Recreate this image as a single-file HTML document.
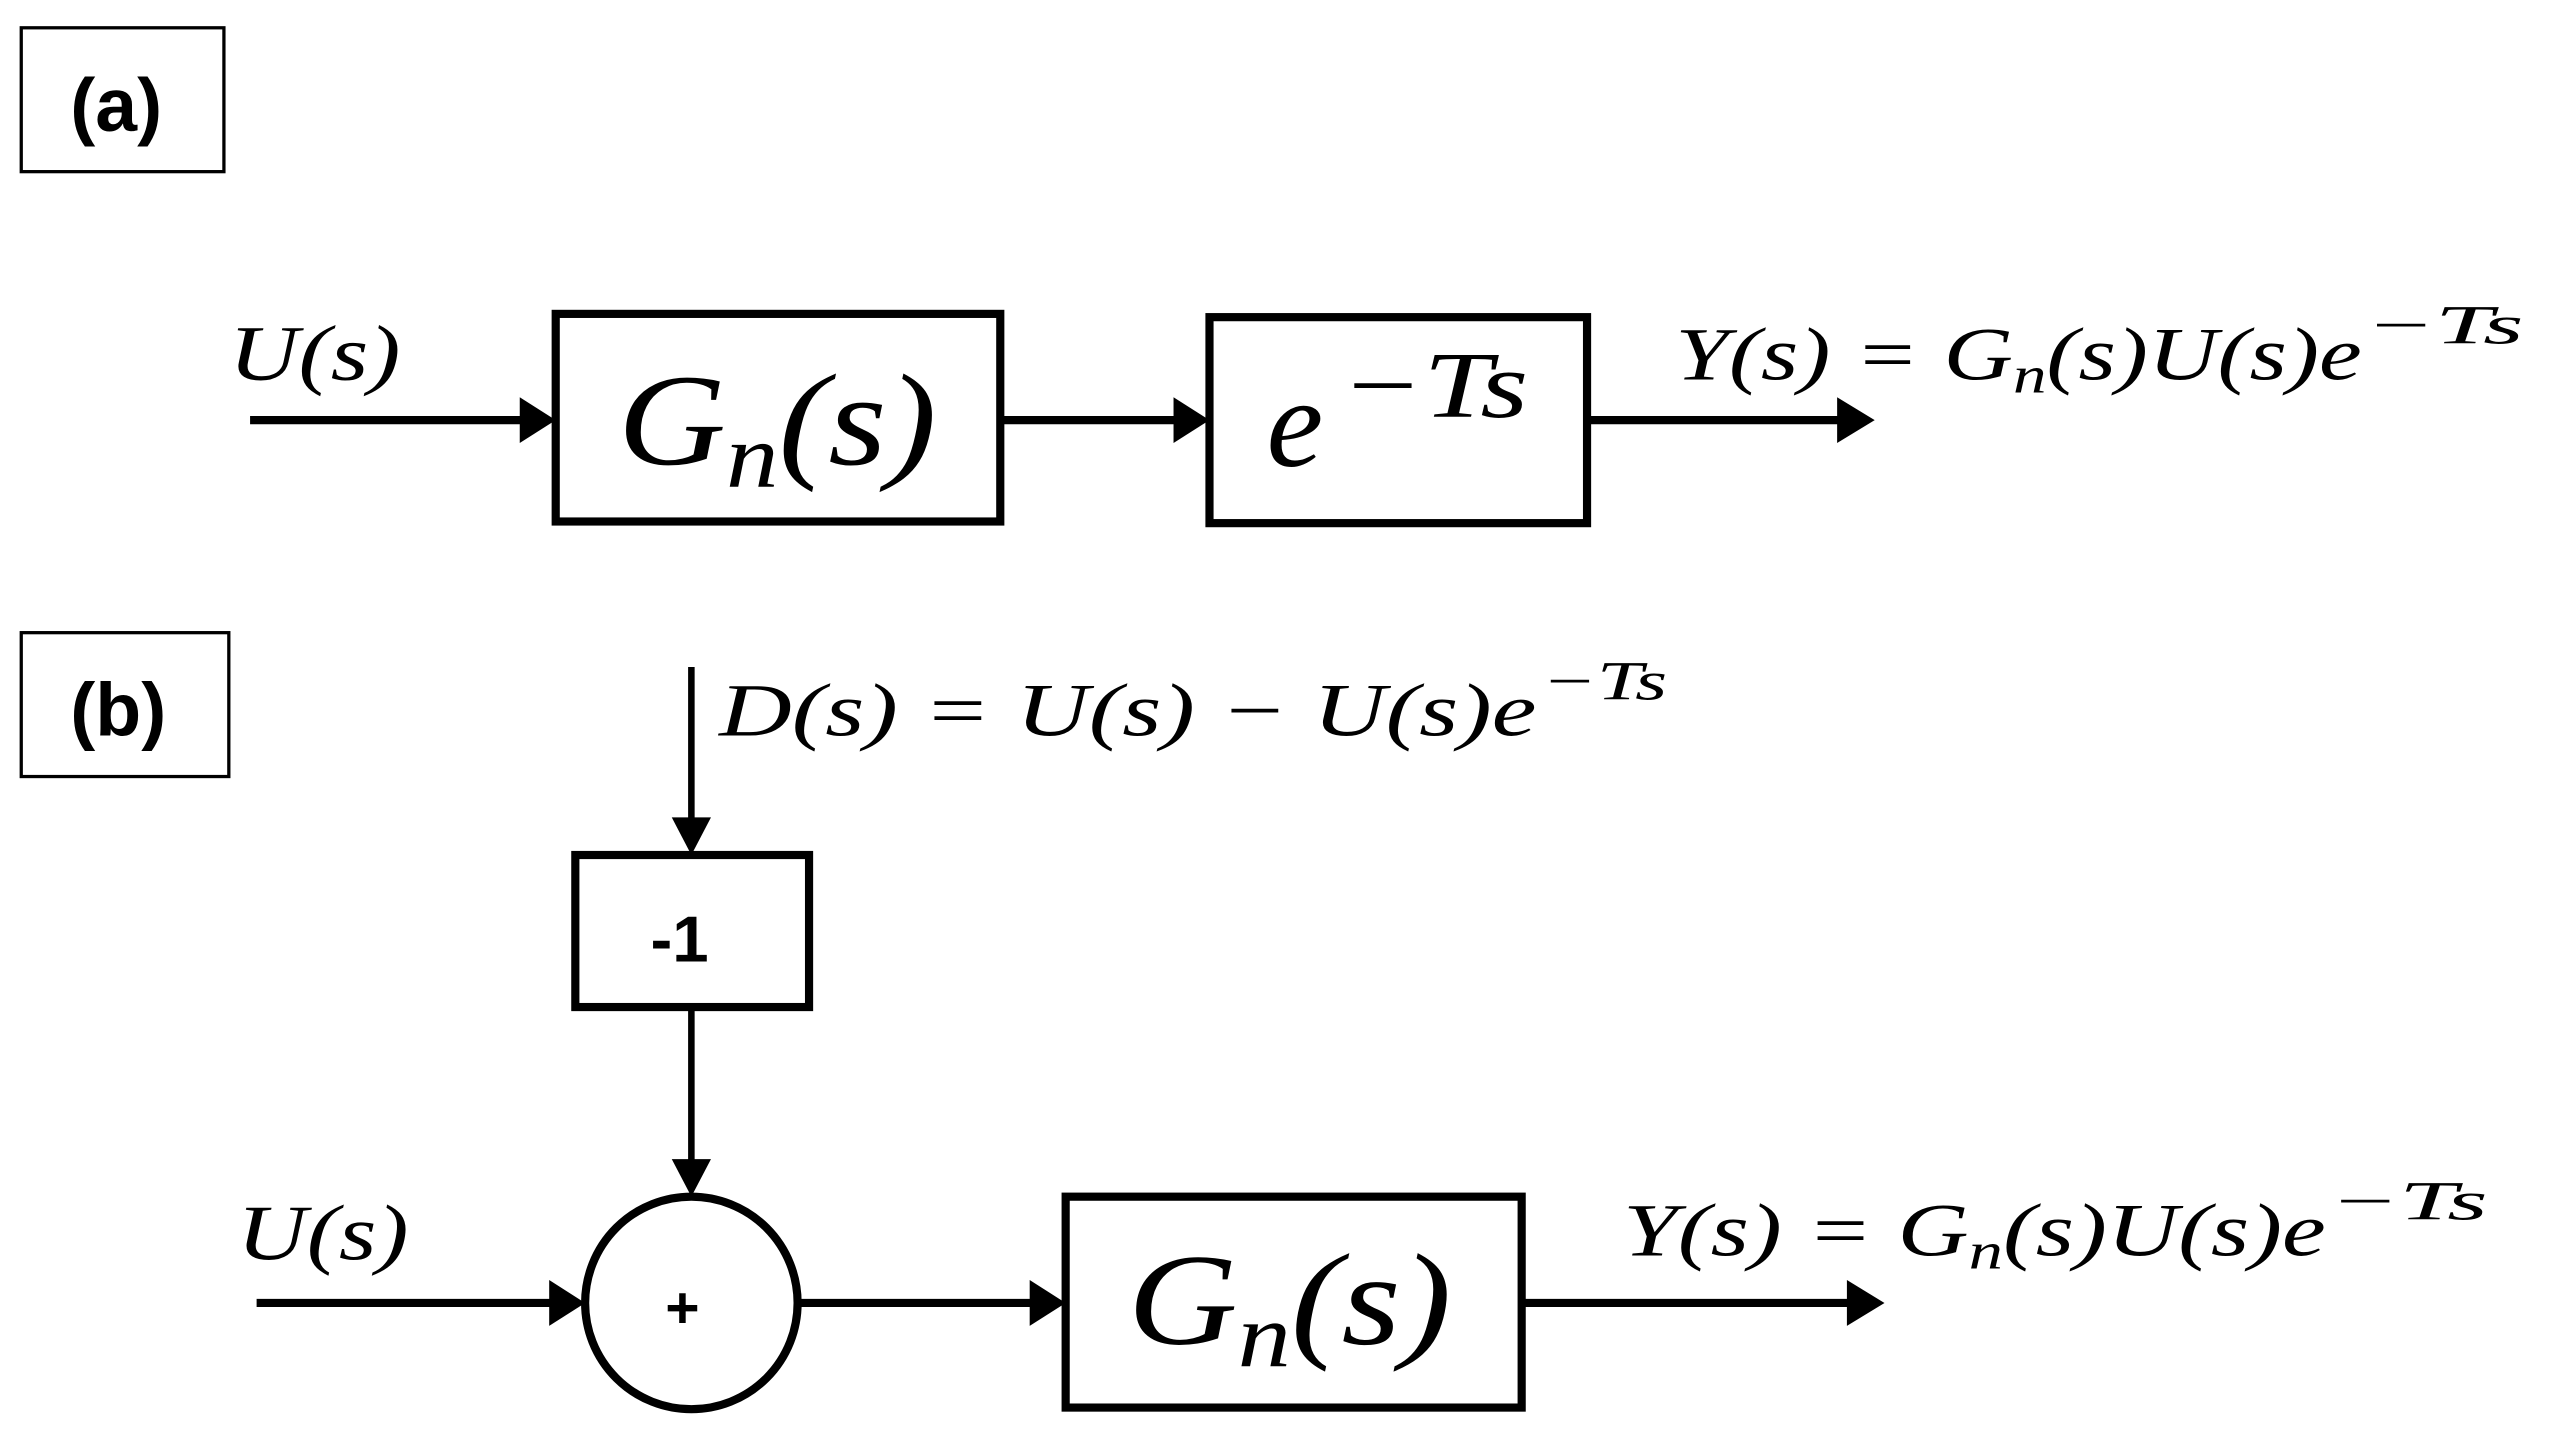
<!DOCTYPE html>
<html><head><meta charset="utf-8"><style>
html,body{margin:0;padding:0;background:#fff;}
svg{display:block;}
text{font-family:"Liberation Serif",serif;font-style:italic;fill:#000;}
.b{font-family:"Liberation Sans",sans-serif;font-style:normal;font-weight:bold;}
</style></head><body>
<svg width="2553" height="1437" viewBox="0 0 1562 879" preserveAspectRatio="none" xmlns="http://www.w3.org/2000/svg">
<g fill="none" stroke="#000">
<rect x="13" y="17" width="124" height="88" stroke-width="2"/>
<rect x="13" y="387" width="127" height="88" stroke-width="2"/>
<rect x="340" y="192" width="272" height="127" stroke-width="5"/>
<rect x="740" y="194" width="231" height="126" stroke-width="5"/>
<rect x="352" y="523" width="143" height="93" stroke-width="5"/>
<rect x="652" y="732" width="279" height="129" stroke-width="5"/>
<circle cx="423" cy="797" r="65" stroke-width="5"/>
<line x1="153" y1="257" x2="322" y2="257" stroke-width="5"/>
<line x1="612" y1="257" x2="722" y2="257" stroke-width="5"/>
<line x1="971" y1="257" x2="1128" y2="257" stroke-width="5"/>
<line x1="157" y1="797" x2="340" y2="797" stroke-width="5"/>
<line x1="488" y1="797" x2="634" y2="797" stroke-width="5"/>
<line x1="931" y1="797" x2="1134" y2="797" stroke-width="5"/>
<line x1="423" y1="408" x2="423" y2="504" stroke-width="4"/>
<line x1="423" y1="616" x2="423" y2="714" stroke-width="4"/>
</g>
<g fill="#000">
<polygon points="340,257 318,243 318,271"/>
<polygon points="740,257 718,243 718,271"/>
<polygon points="1147,257 1124,243 1124,271"/>
<polygon points="358,797 336,783 336,811"/>
<polygon points="652,797 630,783 630,811"/>
<polygon points="1153,797 1130,783 1130,811"/>
<polygon points="423,523 411,500 435,500"/>
<polygon points="423,732 411,709 435,709"/>
</g>
<text class="b" x="43" y="80" font-size="46">(a)</text>
<text class="b" x="43" y="450" font-size="46">(b)</text>
<text class="b" x="398" y="588" font-size="40">-1</text>
<text class="b" x="407" y="812" font-size="36">+</text>
<text x="140" y="232" font-size="48" textLength="105" lengthAdjust="spacingAndGlyphs">U(s)</text>
<text x="145" y="770" font-size="48" textLength="105" lengthAdjust="spacingAndGlyphs">U(s)</text>
<text x="378" y="284" font-size="80" textLength="195" lengthAdjust="spacingAndGlyphs">G<tspan font-size="56" dy="14">n</tspan><tspan dy="-14">(s)</tspan></text>
<text x="690" y="822" font-size="80" textLength="198" lengthAdjust="spacingAndGlyphs">G<tspan font-size="56" dy="14">n</tspan><tspan dy="-14">(s)</tspan></text>
<text x="775" y="285" font-size="78">e</text>
<text x="820" y="255" font-size="58" textLength="115" lengthAdjust="spacingAndGlyphs">−Ts</text>
<text x="1025" y="232" font-size="46" textLength="420" lengthAdjust="spacingAndGlyphs">Y(s) = G<tspan font-size="32" dy="8">n</tspan><tspan dy="-8">(s)U(s)e</tspan></text>
<text x="1447" y="210" font-size="34" textLength="97" lengthAdjust="spacingAndGlyphs">−Ts</text>
<text x="993" y="768" font-size="46" textLength="430" lengthAdjust="spacingAndGlyphs">Y(s) = G<tspan font-size="32" dy="8">n</tspan><tspan dy="-8">(s)U(s)e</tspan></text>
<text x="1425" y="746" font-size="34" textLength="97" lengthAdjust="spacingAndGlyphs">−Ts</text>
<text x="440" y="450" font-size="46" textLength="500" lengthAdjust="spacingAndGlyphs">D(s) = U(s) − U(s)e</text>
<text x="943" y="428" font-size="34" textLength="77" lengthAdjust="spacingAndGlyphs">−Ts</text>
</svg>
</body></html>
